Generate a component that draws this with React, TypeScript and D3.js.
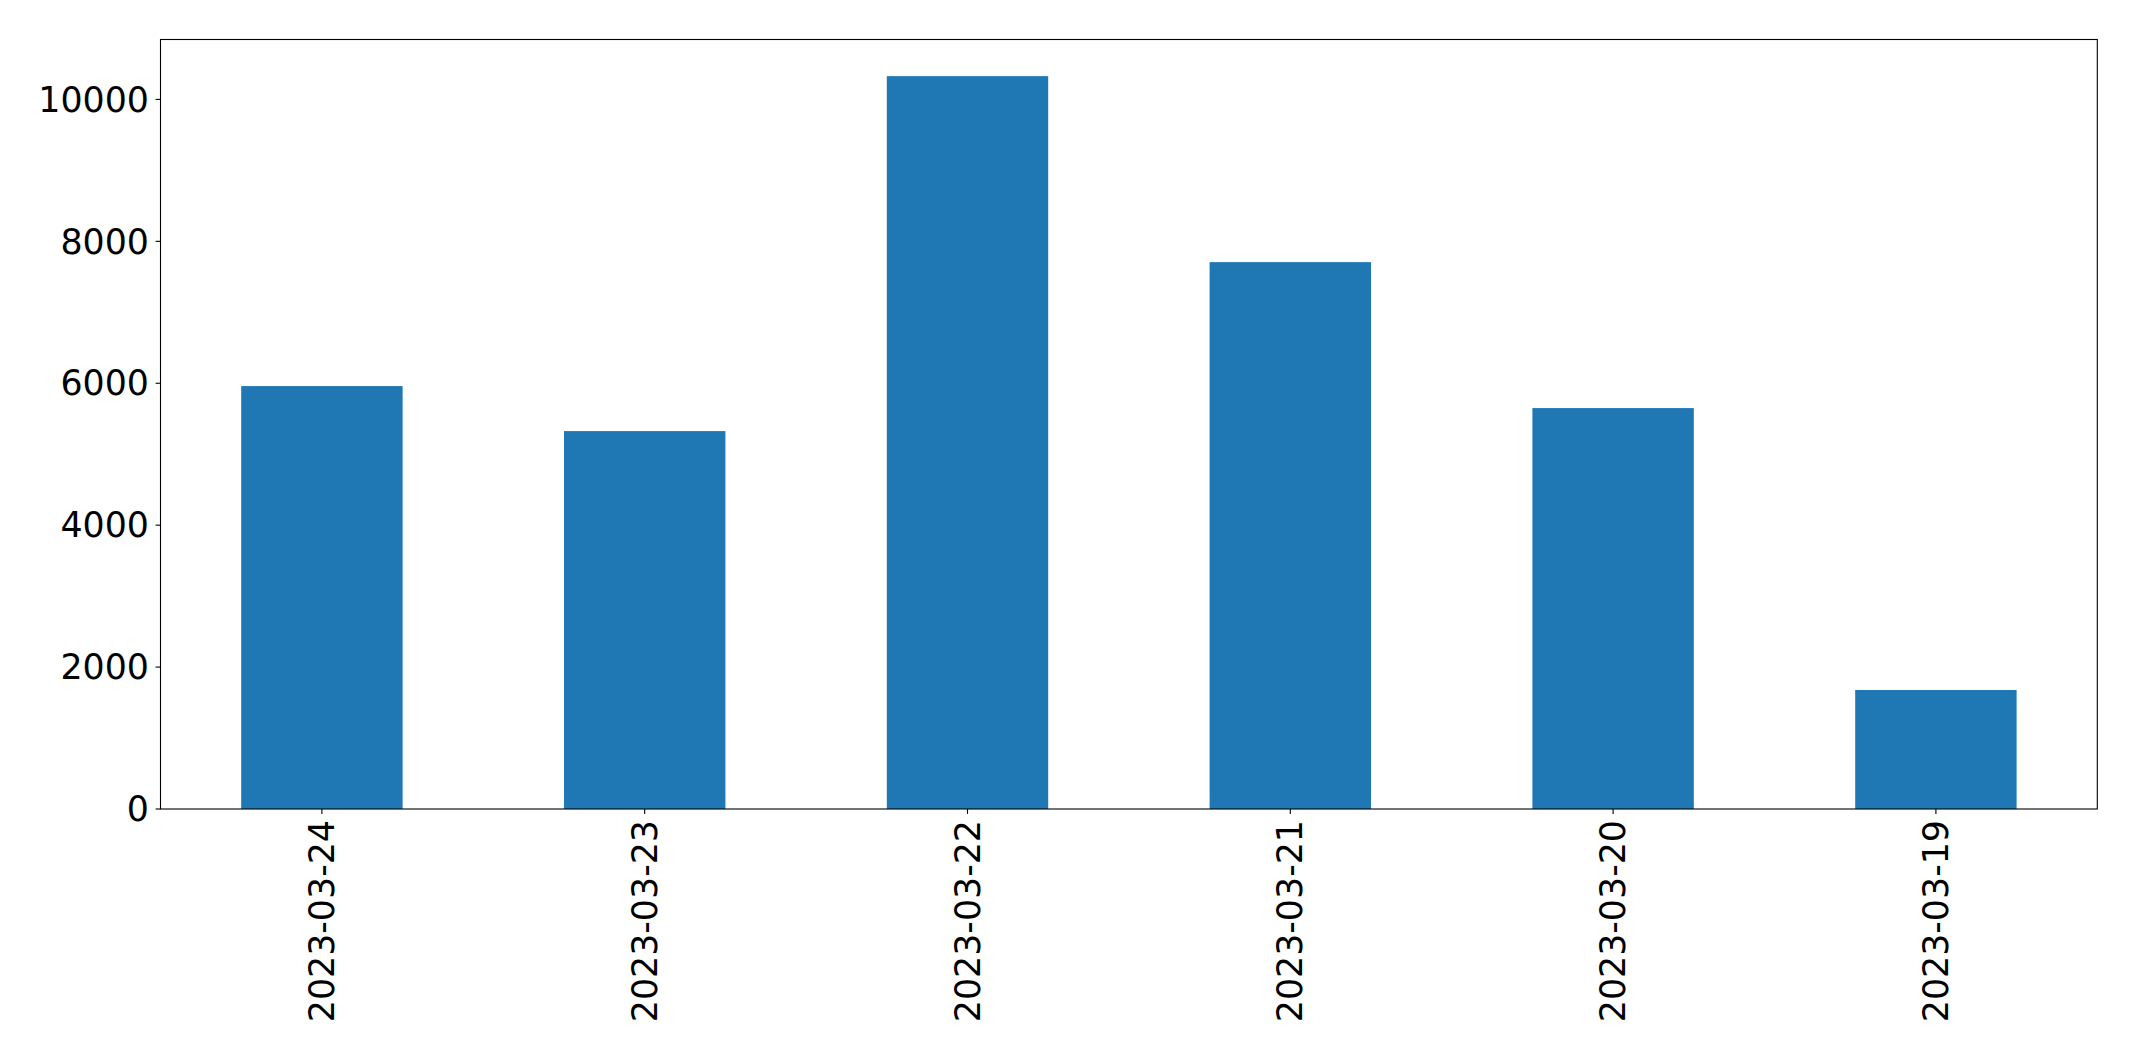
import React, { useEffect } from "react";
import * as d3 from "d3";

const categories = ["2023-03-24", "2023-03-23", "2023-03-22", "2023-03-21", "2023-03-20", "2023-03-19"];
const values = [5960, 5326, 10328, 7707, 5650, 1677];
const yTicks = [0, 2000, 4000, 6000, 8000, 10000];

const W = 2137;
const H = 1061;
const margin = { left: 160.5, right: 2137 - 2097.3, top: 39.5, bottom: 1061 - 809 };

export default function App() {
  useEffect(() => {
    document.body.style.margin = "0";
  }, []);
  const x = d3
    .scaleBand<string>()
    .domain(categories)
    .range([margin.left, W - margin.right])
    .paddingInner(0.5)
    .paddingOuter(0.25);
  const yMax = (d3.max(values) as number) * 1.05;
  const y = d3.scaleLinear().domain([0, yMax]).range([H - margin.bottom, margin.top]);
  const fs = 34.8;
  const font = "DejaVu Sans";
  const x0 = margin.left;
  const x1 = W - margin.right;
  const y0 = H - margin.bottom;
  const y1 = margin.top;
  return (
    <svg width={W} height={H} style={{ display: "block", background: "#fff" }} fontFamily={font}>
      <rect x={0} y={0} width={W} height={H} fill="#fff" />
      {categories.map((c, i) => (
        <rect key={c} x={x(c)} y={y(values[i])} width={x.bandwidth()} height={y(0) - y(values[i])} fill="#1f77b4" />
      ))}
      <rect x={x0} y={y1} width={x1 - x0} height={y0 - y1} fill="none" stroke="#000" strokeWidth={1.1} />
      {yTicks.map((t) => (
        <g key={t}>
          <line x1={x0 - 4.9} x2={x0} y1={y(t)} y2={y(t)} stroke="#000" strokeWidth={1.1} />
          <text x={x0 - 11.5} y={y(t)} dy="0.35em" textAnchor="end" fontSize={fs} fill="#000">
            {t}
          </text>
        </g>
      ))}
      {categories.map((c) => {
        const cx = (x(c) as number) + x.bandwidth() / 2;
        const ty = y0 + 11;
        return (
          <g key={c}>
            <line x1={cx} x2={cx} y1={y0} y2={y0 + 4.9} stroke="#000" strokeWidth={1.1} />
            <text
              x={cx}
              y={ty}
              dy="0.35em"
              textAnchor="end"
              fontSize={fs}
              fill="#000"
              transform={`rotate(-90, ${cx}, ${ty})`}
            >
              {c}
            </text>
          </g>
        );
      })}
    </svg>
  );
}
